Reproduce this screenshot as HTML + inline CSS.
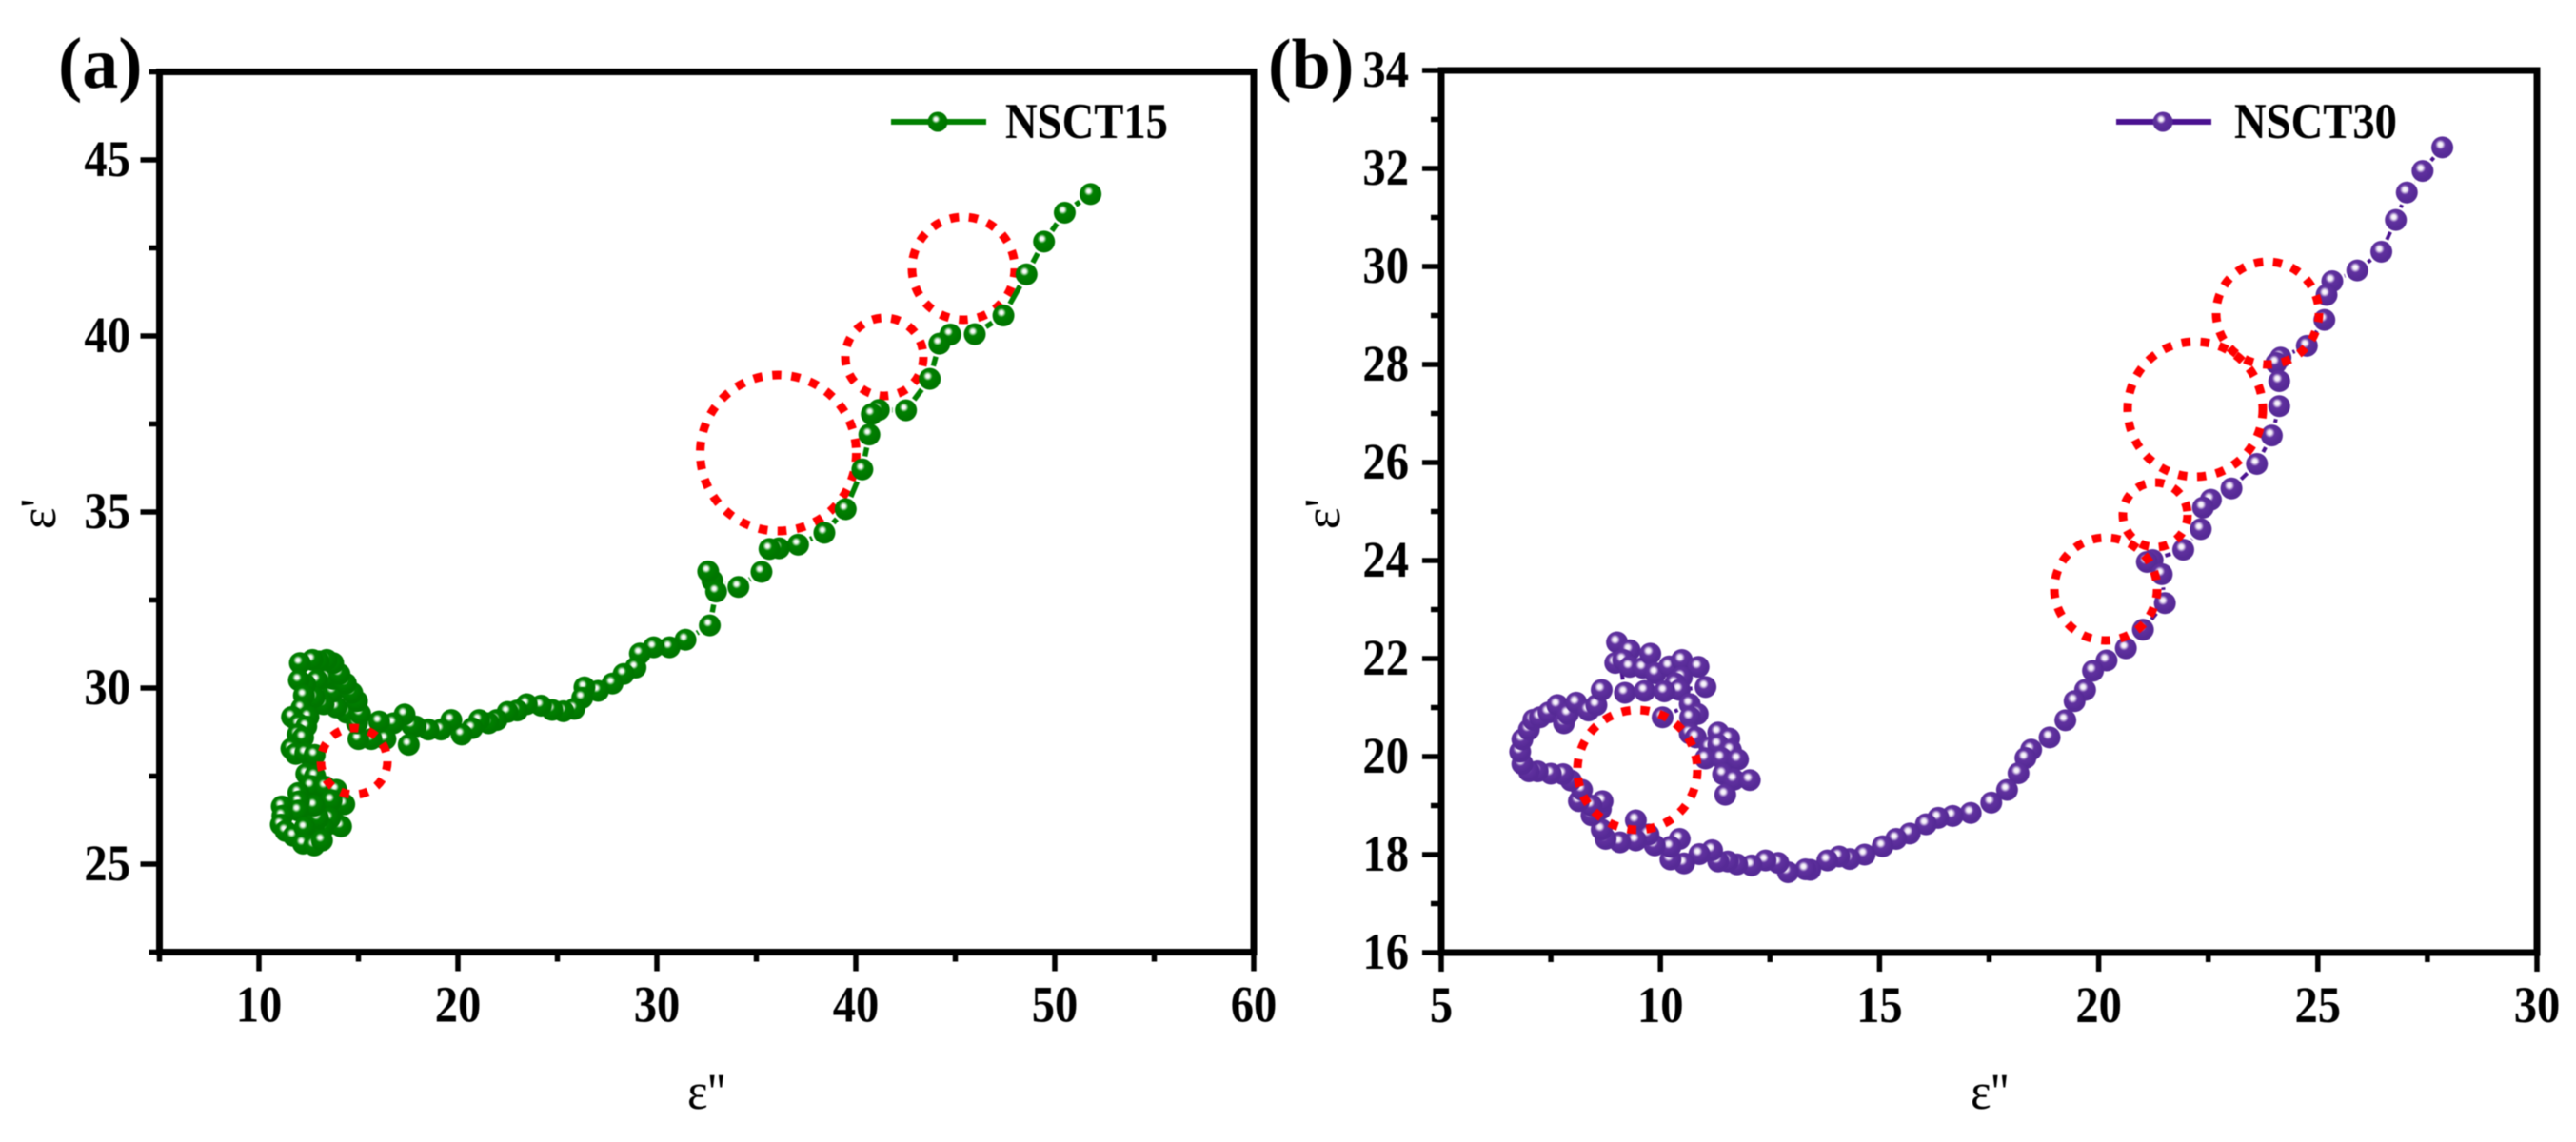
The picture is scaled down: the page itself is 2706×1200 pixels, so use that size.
<!DOCTYPE html>
<html>
<head>
<meta charset="utf-8">
<title>NSCT15 and NSCT30 Cole-Cole plots</title>
<style>
html,body{margin:0;padding:0;background:#fff;width:2706px;height:1200px;overflow:hidden}
svg{display:block;filter:blur(0.6px)}
text{font-family:"Liberation Serif",serif;fill:#000}
</style>
</head>
<body>
<svg id="figure" xmlns="http://www.w3.org/2000/svg" width="2706" height="1200" viewBox="0 0 2706 1200">
<defs>
<radialGradient id="gGreen" cx="0.41" cy="0.37" r="0.5">
<stop offset="0" stop-color="#ffffff"/><stop offset="0.16" stop-color="#f2f8f2"/><stop offset="0.42" stop-color="#008000"/><stop offset="1" stop-color="#007600"/>
</radialGradient>
<radialGradient id="gPurple" cx="0.41" cy="0.37" r="0.5">
<stop offset="0" stop-color="#ffffff"/><stop offset="0.2" stop-color="#efe8f6"/><stop offset="0.46" stop-color="#60319f"/><stop offset="1" stop-color="#562a96"/>
</radialGradient>
</defs>
<rect width="2706" height="1200" fill="#fff"/>
<g id="plotA"></g>
<g id="plotB"></g>
<text x="61" y="92" font-size="76" font-weight="bold">(a)</text>
<text x="1332" y="92" font-size="74" font-weight="bold">(b)</text>
</svg>
<script>
var seriesAName = "NSCT15";
var seriesAX = [51.8,50.5,49.46,48.58,47.42,45.98,44.75,44.2,43.72,42.52,41.16,40.8,40.68,40.33,39.49,38.42,37.1,36.14,35.66,35.26,34.1,32.79,32.58,32.98,32.66,31.44,30.64,29.84,29.15,28.93,28.33,27.77,27.05,26.36,26.25,25.85,25.3,24.74,24.18,23.46,22.98,22.5,21.95,21.55,21.07,20.72,20.19,19.67,19.15,18.52,17.88,17.7,17.53,17.32,16.76,16.36,16.04,15.65,14.4,13.89,13.73,13.25,13.73,13.4,15.0,14.93,15.09,14.93,14.69,14.37,14.05,13.73,13.41,13.01,12.69,12.06,12.93,12.78,12.33,12.01,12.26,12.14,12.49,11.66,12.01,12.38,11.95,12.22,11.63,11.85,12.33,12.8,13.3,13.1,12.9,12.7,12.5,12.3,13.1,12.9,12.7,12.5,12.3,12.38,12.82,12.62,13.33,13.89,14.29,13.65,13.89,14.13,13.57,13.25,12.78,12.98,12.78,11.98,12.01,11.98,11.15,11.18,11.1,11.34,11.74,12.3,12.22,12.78,13.17];
var seriesAY = [44.03,43.5,42.68,41.75,40.58,40.05,40.04,39.78,38.78,37.89,37.9,37.78,37.2,36.21,35.08,34.41,34.07,33.97,33.95,33.3,32.87,33.05,33.31,32.74,31.78,31.37,31.16,31.16,30.98,30.58,30.4,30.13,29.92,30.02,29.72,29.41,29.34,29.38,29.5,29.54,29.36,29.32,29.09,29.0,29.09,28.86,28.68,29.09,28.82,28.82,28.91,28.93,28.39,29.25,29.0,28.55,29.05,28.55,29.3,29.45,29.9,29.54,30.26,30.3,28.55,29.0,29.27,29.63,29.86,30.13,30.4,30.71,30.8,30.76,30.8,30.71,30.22,29.73,30.1,30.22,29.79,29.43,29.18,29.18,28.97,28.91,28.68,28.59,28.28,28.13,28.15,28.1,26.2,26.4,26.55,26.7,26.9,27.0,25.9,26.1,26.25,26.45,26.6,27.56,27.5,27.22,27.2,27.11,26.7,26.81,26.14,26.07,26.3,26.03,26.12,26.3,26.66,27.02,26.78,26.52,26.64,26.37,26.12,25.94,25.8,26.03,25.58,25.53,25.67];

var seriesBName = "NSCT30";
var seriesBX = [27.84,27.39,27.03,26.78,26.45,25.9,25.33,25.2,25.15,24.75,24.15,24.05,24.12,24.12,23.95,23.61,23.03,22.56,22.38,22.33,21.93,21.23,21.1,21.44,21.51,21.01,20.62,20.18,19.87,19.69,19.45,19.24,18.88,18.46,18.33,18.17,17.91,17.55,17.08,16.67,16.34,16.06,15.69,15.38,15.07,14.66,14.32,14.08,13.81,13.42,13.31,12.91,12.69,12.4,12.08,11.75,11.54,11.32,11.18,10.89,10.54,10.23,10.44,10.23,9.87,9.73,9.44,9.44,9.08,8.75,8.66,8.64,8.43,8.68,8.43,8.14,8.21,7.96,7.78,7.5,7.2,7.0,6.85,6.8,6.85,7.0,7.1,7.25,7.45,7.65,7.8,7.89,8.08,8.36,8.54,8.66,9.19,9.01,9.3,8.97,9.15,9.3,9.6,9.77,9.89,9.64,10.2,10.49,10.87,10.49,10.34,10.44,11.03,10.09,10.05,10.67,10.85,10.68,10.67,10.81,11.32,11.57,11.12,11.32,11.61,11.03,11.39,11.77,11.43,11.68,12.04,11.48];
var seriesBY = [32.43,31.95,31.51,30.95,30.3,29.92,29.7,29.42,28.91,28.38,28.14,28.03,27.66,27.15,26.55,25.97,25.47,25.24,25.08,24.64,24.22,24.01,23.97,23.72,23.13,22.59,22.21,21.96,21.75,21.36,21.13,20.74,20.39,20.14,19.97,19.66,19.32,19.06,18.85,18.79,18.75,18.62,18.43,18.32,18.17,18.0,17.91,17.96,17.88,17.69,17.7,17.64,17.83,17.88,17.78,17.8,17.86,17.86,18.09,18.01,17.82,17.9,18.32,18.16,18.19,18.41,18.7,18.29,18.25,18.32,18.51,18.93,18.8,19.09,19.0,19.09,19.32,19.51,19.64,19.65,19.7,19.7,19.85,20.1,20.35,20.55,20.75,20.8,20.9,21.05,20.68,20.87,21.1,20.94,21.05,21.36,21.3,22.33,22.17,21.91,21.97,21.83,21.81,22.1,21.7,21.34,21.84,21.97,21.83,21.62,21.49,21.36,21.42,21.33,20.8,21.07,20.87,20.8,20.47,20.39,20.49,20.37,20.19,20.24,20.13,19.96,19.97,19.94,19.64,19.53,19.52,19.22];

var aXMajorTicks = [10,20,30,40,50,60];
var aXMinorTicks = [5,15,25,35,45,55];
var aYMajorTicks = [25,30,35,40,45];
var aYMinorTicks = [22.5,27.5,32.5,37.5,42.5,47.5];
var bXMajorTicks = [5,10,15,20,25,30];
var bXMinorTicks = [7.5,12.5,17.5,22.5,27.5];
var bYMajorTicks = [16,18,20,22,24,26,28,30,32,34];
var bYMinorTicks = [17,19,21,23,25,27,29,31,33];

var NS = "http://www.w3.org/2000/svg";
function mk(parent, tag, attrs, txt) {
  var el = document.createElementNS(NS, tag);
  for (var k in attrs) el.setAttribute(k, attrs[k]);
  if (txt !== undefined) el.textContent = txt;
  parent.appendChild(el);
  return el;
}
function ax(v, a, b, p, q) { return p + (v - a) * (q - p) / (b - a); }

function drawPanel(cfg) {
  var g = document.getElementById(cfg.id);
  function sx(v) { return ax(v, cfg.xMin, cfg.xMax, cfg.left, cfg.right); }
  function sy(v) { return ax(v, cfg.yMin, cfg.yMax, cfg.bottom, cfg.top); }

  var frame = mk(g, "rect", {x: cfg.left, y: cfg.top, width: cfg.right - cfg.left, height: cfg.bottom - cfg.top, fill: "none", stroke: "#000", "stroke-width": 7});
  
  

  cfg.xMajor.forEach(function (v) {
    var t = mk(g, "line", {x1: sx(v), x2: sx(v), y1: cfg.bottom, y2: cfg.bottom + 20, stroke: "#000", "stroke-width": 5.5});
    
    
    var l = mk(g, "text", {transform: "translate(" + sx(v) + "," + (cfg.bottom + 73) + ") scale(.9,1)", "text-anchor": "middle", "font-size": 54, "font-weight": "bold"}, String(v));
    
    
  });
  cfg.xMinor.forEach(function (v) {
    var t = mk(g, "line", {x1: sx(v), x2: sx(v), y1: cfg.bottom, y2: cfg.bottom + 10, stroke: "#000", "stroke-width": 5.5});
    
    
  });
  cfg.yMajor.forEach(function (v) {
    var t = mk(g, "line", {x1: cfg.left, x2: cfg.left - 20, y1: sy(v), y2: sy(v), stroke: "#000", "stroke-width": 5.5});
    
    
    var l = mk(g, "text", {transform: "translate(" + cfg.yLabelX + "," + (sy(v) + 17) + ") scale(.9,1)", "text-anchor": "end", "font-size": 54, "font-weight": "bold"}, String(v));
    
    
  });
  cfg.yMinor.forEach(function (v) {
    var t = mk(g, "line", {x1: cfg.left, x2: cfg.left - 11, y1: sy(v), y2: sy(v), stroke: "#000", "stroke-width": 5.5});
    
    
  });

  var xt = mk(g, "text", {transform: "translate(" + cfg.xTitleX + ",1165) scale(.95,1)", "text-anchor": "middle", "font-size": 54}, "\u03b5''");
  
  
  var yt = mk(g, "text", {transform: "translate(" + cfg.yTitleX + ",540) rotate(-90)", "text-anchor": "middle", "font-size": 54}, "\u03b5'");
  
  

  function rings(list) {
    list.forEach(function (c) {
      var r = mk(g, "circle", {cx: c[0], cy: c[1], r: c[2], fill: "none", stroke: "#ff0000", "stroke-width": 9, "stroke-dasharray": "9.5 10.5"});
      
      
    });
  }
  rings(cfg.ringsBelow);

  var d = "";
  for (var i = 1; i < cfg.xs.length; i++) {
    var x0 = sx(cfg.xs[i - 1]), y0 = sy(cfg.ys[i - 1]), x1 = sx(cfg.xs[i]), y1 = sy(cfg.ys[i]);
    var len = Math.hypot(x1 - x0, y1 - y0);
    if (len > 2 * cfg.gap) {
      var ux = (x1 - x0) / len, uy = (y1 - y0) / len;
      d += "M" + (x0 + ux * cfg.gap).toFixed(1) + " " + (y0 + uy * cfg.gap).toFixed(1) + "L" + (x1 - ux * cfg.gap).toFixed(1) + " " + (y1 - uy * cfg.gap).toFixed(1);
    }
  }
  var line = mk(g, "path", {d: d, fill: "none", stroke: cfg.lineColor, "stroke-width": cfg.lineWidth});
  
  
  cfg.xs.forEach(function (v, i) {
    var m = mk(g, "circle", {cx: sx(v), cy: sy(cfg.ys[i]), r: 11.5, fill: "url(#" + cfg.grad + ")"});
    
    
  });
  rings(cfg.ringsAbove);

  var ll = mk(g, "line", {x1: cfg.legX, x2: cfg.legX + 100, y1: 128, y2: 128, stroke: cfg.legColor, "stroke-width": 6});
  
  
  var lm = mk(g, "circle", {cx: cfg.legX + 49, cy: 128, r: 10.5, fill: "url(#" + cfg.grad + ")"});
  
  
  var lt = mk(g, "text", {transform: "translate(" + cfg.legTextX + ",145) scale(.88,1)", "font-size": 53, "font-weight": "bold"}, cfg.name);
  
  
}

drawPanel({
  id: "plotA", name: seriesAName, xs: seriesAX, ys: seriesAY,
  xMin: 5, xMax: 60, yMin: 22.5, yMax: 47.5,
  left: 167.5, right: 1317, top: 75.5, bottom: 1000.5,
  xMajor: aXMajorTicks, xMinor: aXMinorTicks, yMajor: aYMajorTicks, yMinor: aYMinorTicks,
  yLabelX: 137, xTitleX: 742, yTitleX: 58,
  lineColor: "#008000", lineWidth: 5.5, gap: 14, legColor: "#008000", grad: "gGreen",
  legX: 936, legTextX: 1056,
  ringsBelow: [[817.5, 476, 82], [929, 375, 41], [1012, 282, 54]],
  ringsAbove: [[372, 800, 35]]
});
drawPanel({
  id: "plotB", name: seriesBName, xs: seriesBX, ys: seriesBY,
  xMin: 5, xMax: 30, yMin: 16, yMax: 34,
  left: 1514, right: 2665, top: 74, bottom: 1001,
  xMajor: bXMajorTicks, xMinor: bXMinorTicks, yMajor: bYMajorTicks, yMinor: bYMinorTicks,
  yLabelX: 1480, xTitleX: 2090, yTitleX: 1407,
  lineColor: "#4a1190", lineWidth: 4, gap: 14, legColor: "#4a1190", grad: "gPurple",
  legX: 2223, legTextX: 2347,
  ringsBelow: [],
  ringsAbove: [[2382, 329, 54], [2306, 430, 71], [2264, 541, 34], [2212, 619, 54], [1720, 809, 63]]
});
</script>
</body>
</html>
